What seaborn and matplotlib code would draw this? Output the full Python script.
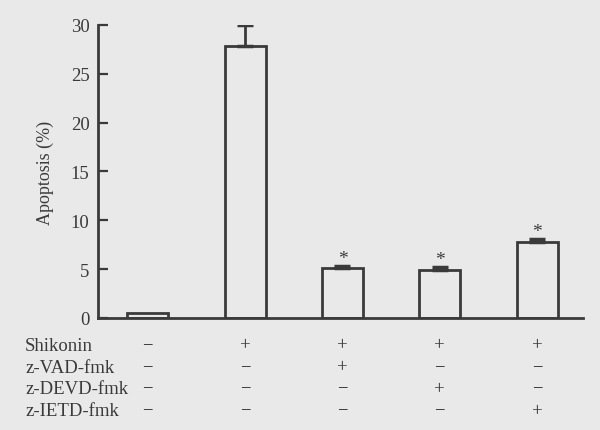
import matplotlib
matplotlib.use("Agg")
import matplotlib.pyplot as plt
import matplotlib.transforms as mtransforms
import seaborn as sns
import numpy as np
import pandas as pd

# -------------------- Data --------------------
groups = ["G1", "G2", "G3", "G4", "G5"]
apoptosis = [0.5, 27.8, 5.1, 4.9, 7.8]
errors = [0.0, 2.2, 0.2, 0.3, 0.3]
significant = [False, False, True, True, True]

row_labels = ["Shikonin", "z-VAD-fmk", "z-DEVD-fmk", "z-IETD-fmk"]
shikonin = ["−", "+", "+", "+", "+"]
zvad = ["−", "−", "+", "−", "−"]
zdevd = ["−", "−", "−", "+", "−"]
zietd = ["−", "−", "−", "−", "+"]

y_ticks = [0, 5, 10, 15, 20, 25, 30]

# -------------------- Style --------------------
BG = "#e9e9e9"
INK = "#3a3a3a"
sns.set_style("ticks")
plt.rcParams["font.family"] = ["Liberation Serif", "DejaVu Serif"]
plt.rcParams["font.size"] = 13

df = pd.DataFrame({"group": groups, "apoptosis": apoptosis})

fig = plt.figure(figsize=(6, 4.31), dpi=100, facecolor=BG)
ax = fig.add_axes([0.1633, 0.2599, 0.8084, 0.6798])
ax.set_facecolor(BG)

sns.barplot(data=df, x="group", y="apoptosis", order=groups, width=0.42,
            facecolor="none", edgecolor=INK, linewidth=2.0, errorbar=None, ax=ax)

# upper error bars only, skip groups without an error value
x = np.arange(len(groups))
err = np.array(errors)
mask = err > 0
ax.errorbar(x[mask], np.array(apoptosis)[mask], yerr=[np.zeros(mask.sum()), err[mask]],
            fmt="none", ecolor=INK, elinewidth=2.0, capsize=6, capthick=2.5)

for i in range(len(groups)):
    if significant[i]:
        ax.text(x[i], apoptosis[i] + errors[i] - 0.1, "*", ha="center", va="bottom",
                fontsize=14, color=INK)

ax.set_xlim(-0.51, 4.47)
ax.set_ylim(0, 30)
ax.set_yticks(y_ticks)
ax.set_xticks([])
ax.set_xlabel("")
ax.set_ylabel("Apoptosis (%)", color=INK, labelpad=12)
ax.tick_params(axis="y", direction="in", length=7, width=1.6, colors=INK, labelsize=13.5, pad=6)

sns.despine(ax=ax)
for side in ["left", "bottom"]:
    ax.spines[side].set_color(INK)
    ax.spines[side].set_linewidth(2.0)

# -------------------- Treatment table --------------------
trans = mtransforms.blended_transform_factory(ax.transData, fig.transFigure)
row_y = [0.197, 0.146, 0.097, 0.046]
rows = [shikonin, zvad, zdevd, zietd]
for label, yy, signs in zip(row_labels, row_y, rows):
    fig.text(0.042, yy, label, ha="left", va="center", color=INK, fontsize=13.5)
    for i, s in enumerate(signs):
        ax.text(x[i], yy, s, transform=trans, ha="center", va="center", color=INK, fontsize=13.5)

fig.savefig("out.png", dpi=100, facecolor=BG)
